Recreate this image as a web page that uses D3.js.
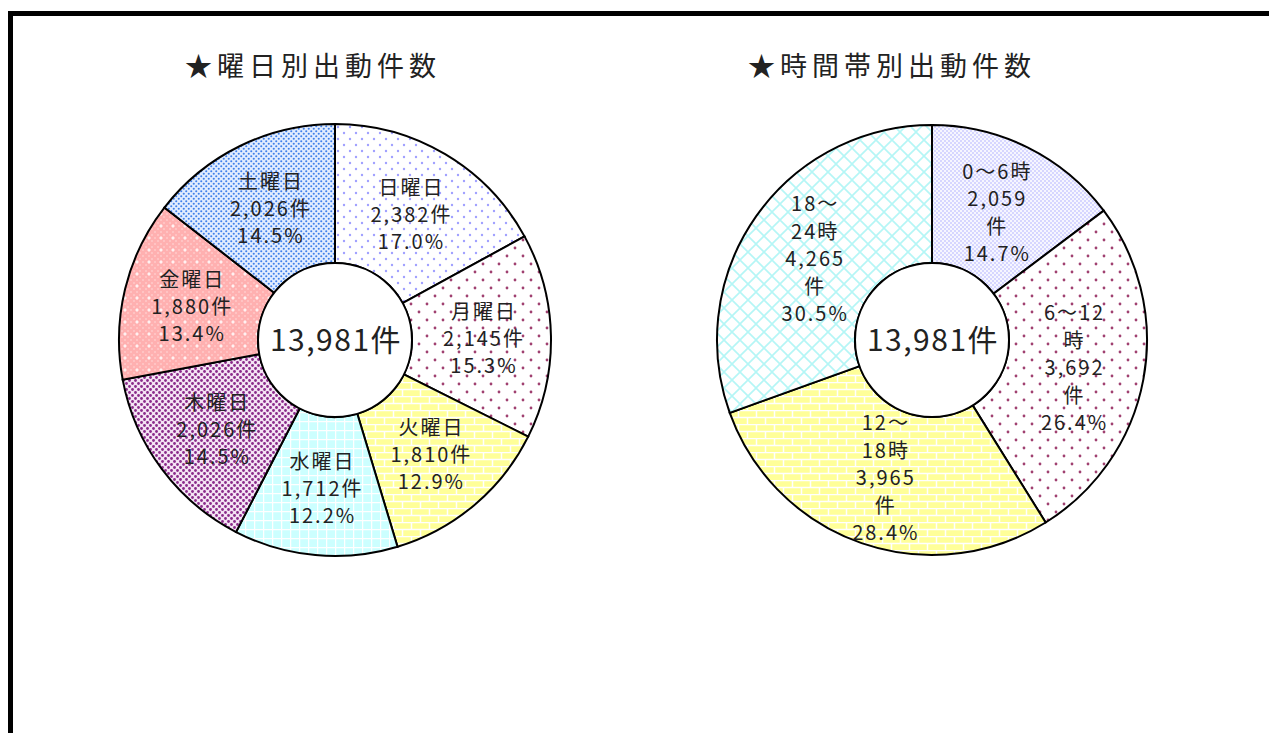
<!DOCTYPE html>
<html>
<head>
<meta charset="utf-8">
<script src="https://cdn.jsdelivr.net/npm/d3@7"></script>
<style>
  body { margin: 0; background: #fff; }
  text { font-family: "Noto Sans CJK JP", "Noto Sans", sans-serif; fill: #222; }
</style>
</head>
<body>
<div id="chart"></div>
<script>
// weekday chart
const dayNames = ['日曜日', '月曜日', '火曜日', '水曜日', '木曜日', '金曜日', '土曜日'];
const dayCounts = [2382, 2145, 1810, 1712, 2026, 1880, 2026];
const dayPcts = ['17.0%', '15.3%', '12.9%', '12.2%', '14.5%', '13.4%', '14.5%'];
const dayFills = ['sunDots', 'monDots', 'brick', 'grid', 'purpleDots', 'pinkDots', 'blueDots'];

// time band chart
const timeNames = [['0～6時'], ['6～12', '時'], ['12～', '18時'], ['18～', '24時']];
const timeCounts = [2059, 3692, 3965, 4265];
const timePcts = ['14.7%', '26.4%', '28.4%', '30.5%'];
const timeFills = ['lavDots', 'monDots', 'brick', 'cross'];

const totalLabel = '13,981件';
const titles = ['★曜日別出動件数', '★時間帯別出動件数'];

const W = 1269, H = 733;
const fmt = d3.format(',');

let svg = d3.select('#chart').append('svg')
  .attr('width', W)
  .attr('height', H);

let defs = svg.append('defs');

let makePattern = (id, w, h, bg) => {
  let p = defs.append('pattern')
    .attr('id', id)
    .attr('patternUnits', 'userSpaceOnUse')
    .attr('width', w)
    .attr('height', h);
  p.append('rect').attr('width', w).attr('height', h).attr('fill', bg);
  return p;
}

let dots = (p, pts, r, color) => {
  pts.forEach(([x, y]) => p.append('circle').attr('cx', x).attr('cy', y).attr('r', r).attr('fill', color));
}

// sparse lavender dots
dots(makePattern('sunDots', 12, 12, '#fff'), [[3, 3], [9, 9]], 1.2, '#a0a0ff');
// sparse maroon dots
dots(makePattern('monDots', 16, 16, '#fff'), [[4, 4], [12, 12]], 1.4, '#a04070');
// dense lavender dots
dots(makePattern('lavDots', 4, 4, '#f6f6ff'), [[1, 1], [3, 3]], 0.75, '#a8a8ff');
// purple dots
dots(makePattern('purpleDots', 6, 6, '#f4e4f4'), [[1.5, 1.5], [4.5, 4.5]], 1.4, '#8a2a8a');
// blue dots
dots(makePattern('blueDots', 5, 5, '#e2edff'), [[1.25, 1.25], [3.75, 3.75]], 1.05, '#3f80ea');

// pink with white sparkle
let pink = makePattern('pinkDots', 12, 12, '#ffb0b0');
dots(pink, [[0, 0], [3, 3], [6, 0], [9, 3], [0, 6], [6, 6], [3, 9], [9, 9], [12, 0], [0, 12], [12, 12], [12, 6], [6, 12]], 0.7, '#ffe6e6');
pink.append('path').attr('d', 'M6,4.3V7.7M4.3,6H7.7').attr('stroke', '#fff').attr('stroke-width', 1.1);

// yellow brick
let brick = makePattern('brick', 18, 14, '#ffff99');
brick.append('path')
  .attr('d', 'M0,0.5H18M0,7.5H18M4.5,0V7M13.5,7V14')
  .attr('stroke', '#fff').attr('stroke-width', 1.5).attr('fill', 'none');

// cyan grid
let grid = makePattern('grid', 9, 9, '#ccffff');
grid.append('path')
  .attr('d', 'M0,0.5H9M0.5,0V9')
  .attr('stroke', '#fff').attr('stroke-width', 1.5).attr('fill', 'none');

// cyan cross hatch
let cross = makePattern('cross', 16, 16, '#fff');
cross.append('path')
  .attr('d', 'M0,0L16,16M16,0L0,16M-8,8L0,16M8,-8L24,8M8,24L24,8M-8,8L8,-8')
  .attr('stroke', '#b4f6f6').attr('stroke-width', 1.6).attr('fill', 'none');

// frame
svg.append('rect')
  .attr('x', 10.5).attr('y', 13.5)
  .attr('width', 1400).attr('height', 900)
  .attr('fill', 'none')
  .attr('stroke', '#000')
  .attr('stroke-width', 5);

let drawDonut = (cfg) => {
  let g = svg.append('g').attr('transform', `translate(${cfg.cx}, ${cfg.cy})`);

  svg.append('text')
    .attr('x', cfg.titleX)
    .attr('y', 64)
    .attr('dominant-baseline', 'central')
    .style('font-size', '27px')
    .style('letter-spacing', '5px')
    .text(cfg.title);

  let pie = d3.pie().sort(null).value(d => d.count);
  let arc = d3.arc().innerRadius(cfg.inner).outerRadius(cfg.outer);
  let labelArc = d3.arc().innerRadius(cfg.labelR).outerRadius(cfg.labelR);

  let arcs = pie(cfg.data);

  g.selectAll('path.slice')
    .data(arcs)
    .enter()
    .append('path')
      .attr('class', 'slice')
      .attr('d', arc)
      .attr('fill', d => `url(#${d.data.fill})`)
      .attr('stroke', '#000')
      .attr('stroke-width', 2);

  g.append('circle')
    .attr('r', cfg.inner)
    .attr('fill', '#fff')
    .attr('stroke', '#000')
    .attr('stroke-width', 2);

  g.append('text')
    .attr('x', 1)
    .attr('y', -2)
    .attr('text-anchor', 'middle')
    .attr('dominant-baseline', 'central')
    .style('font-size', '30px')
    .style('letter-spacing', '1.5px')
    .text(totalLabel);

  let labels = g.selectAll('g.label')
    .data(arcs)
    .enter()
    .append('g')
      .attr('class', 'label')
      .attr('transform', d => {
        let [x, y] = labelArc.centroid(d);
        return `translate(${x}, ${y})`;
      });

  labels.each(function(d) {
    let lines = d.data.lines;
    let lh = cfg.lineH;
    let t = d3.select(this).append('text')
      .attr('text-anchor', 'middle')
      .attr('dominant-baseline', 'central')
      .style('font-size', '20px')
      .style('letter-spacing', '2px');
    lines.forEach((line, i) => {
      t.append('tspan')
        .attr('x', 1)
        .attr('y', (i - (lines.length - 1) / 2) * lh)
        .text(line);
    });
  });
}

let dayData = dayNames.map((n, i) => ({
  count: dayCounts[i],
  fill: dayFills[i],
  lines: [n, fmt(dayCounts[i]) + '件', dayPcts[i]]
}));

let timeData = timeNames.map((n, i) => ({
  count: timeCounts[i],
  fill: timeFills[i],
  lines: [...n, fmt(timeCounts[i]), '件', timePcts[i]]
}));

drawDonut({
  data: dayData, title: titles[0], titleX: 185,
  cx: 335, cy: 340, inner: 77, outer: 216, labelR: 148, lineH: 27
});

drawDonut({
  data: timeData, title: titles[1], titleX: 748,
  cx: 932, cy: 340, inner: 77, outer: 215, labelR: 144, lineH: 27.5
});
</script>
</body>
</html>
